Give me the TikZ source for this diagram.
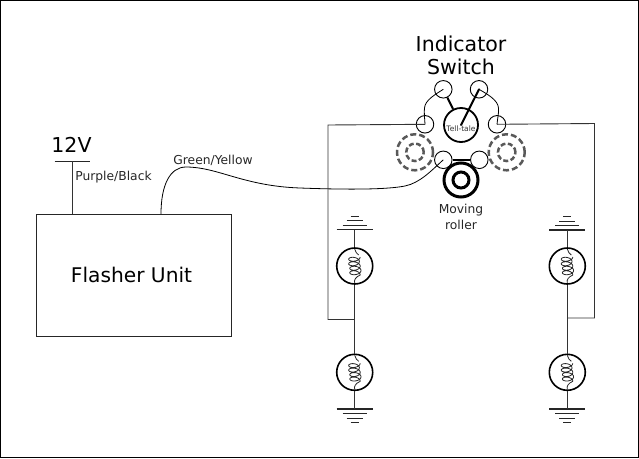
\documentclass[tikz,border=0pt]{standalone}
\usepackage{fontspec}
\setmainfont{DejaVu Sans}
\tikzset{
  x=1pt,y=-1pt,
  wire/.style={draw=black!80,line width=0.9pt},
  term/.style={circle,draw=black,line width=0.9pt,minimum size=17.5pt,inner sep=0pt,fill=none},
  bulb/.style={circle,draw=black,line width=1.6pt,minimum size=36pt,inner sep=0pt},
  hub/.style={circle,draw=black,line width=1.8pt,minimum size=34pt,inner sep=0pt},
  thickwire/.style={draw=black,line width=2pt},
  ghost/.style={circle,draw=black!65,line width=2.5pt,dash pattern=on 6pt off 3pt,inner sep=0pt},
  big/.style={font=\fontsize{20.5}{24.5}\selectfont,inner sep=0pt,align=center},
  small/.style={font=\fontsize{12.3}{16}\selectfont,inner sep=0pt,align=center,text=black!85},
  coil/.style={draw=black!85,line width=0.8pt},
  gnd/.style={draw=black!85,line width=1pt},
}
\newcommand{\coilat}[2]{%
  \draw[coil] (#1,#2-17) .. controls (#1+2,#2-14) and (#1+1,#2-12) .. (#1+4,#2-11)
    plot[smooth,samples=90,domain=0:1440,variable=\t] ({#1+5.5*cos(\t)-0.8*sin(\t/4)},{#2-9+\t/80+3*sin(\t)})
    .. controls (#1+1,#2+11) and (#1-1,#2+14) .. (#1,#2+17);}
\begin{document}
\begin{tikzpicture}
\useasboundingbox (0,0) rectangle (639,458);
\draw[black,line width=1pt] (0.5,0.5) rectangle (638.5,457.5);

% Labels
\node[big] (title) at (461,55.5) {Indicator\\[-1pt]Switch};
\node[big] (volt) at (71.5,144.5) {12V};
\node[small] (pb) at (113.5,177) {Purple/Black};
\node[small] (gy) at (213,160) {Green/Yellow};
\node[small] (mr) at (461,216.5) {Moving\\roller};

% Flasher
\node[draw=black!85,line width=1pt,minimum width=195pt,minimum height=122pt,inner sep=0pt] (flasher) at (134.2,275) {};
\node[font=\fontsize{20.2}{24}\selectfont,inner sep=0pt] (flabel) at (131.5,274.5) {Flasher Unit};
\coordinate (vbar) at (72,161);
\draw[gnd] (54.5,161) -- (90,161);
\draw[wire] (vbar) -- (vbar |- flasher.north);

% Switch
\node[term] (tl) at (443.3,89.3) {};
\node[term] (tr) at (479,89.3) {};
\node[term] (l) at (425,124.3) {};
\node[term] (r) at (497,124.3) {};
\node[term] (bl) at (443.3,159.8) {};
\node[term] (br) at (479.3,159.8) {};
\node[hub] (tell) at (461,125) {};
\node[font=\fontsize{7.5}{8}\selectfont,text=black!80,inner sep=0pt] (tlabel) at (461,129) {Tell-tale};
\coordinate (tellc) at (461,125);
\draw[thickwire] (tl) -- (tell);
\draw[thickwire,line cap=round] (tellc) -- (tr.center);
\draw[thickwire] (bl) -- (br);
\draw[black,line width=0.8pt] (l.center) .. controls (424.5,116) and (424,112) .. (424.5,108) .. controls (425,100) and (436,94) .. (tl.center);
\draw[black,line width=0.8pt] (tr.center) .. controls (487,94) and (498,100) .. (498.5,108) .. controls (499,113) and (497.5,118) .. (r.center);

% Dashed contacts
\node[ghost,minimum size=36pt] (gl) at (415,152.3) {};
\node[ghost,minimum size=17.5pt,dash pattern=on 5pt off 2.5pt] (gli) at (415,152.3) {};
\node[ghost,minimum size=36pt] (gr) at (506.7,152.3) {};
\node[ghost,minimum size=17.5pt,dash pattern=on 5pt off 2.5pt] (gri) at (506.7,152.3) {};

% Roller
\node[circle,draw=black,line width=3pt,minimum size=34pt,inner sep=0pt] (roll) at (461,180) {};
\node[circle,draw=black,line width=3pt,minimum size=16pt,inner sep=0pt] (rolli) at (461,180) {};

% Green wire
\coordinate (gstart) at (161,214);
\draw[black,line width=0.8pt] (gstart) .. controls (161,185) and (170,167) .. (186,167)
  .. controls (218,167) and (243,186) .. (300,188) .. controls (340,189.5) and (385,190) .. (405,186)
  .. controls (420,183) and (432,170) .. (bl.center);

% Bulbs
\node[bulb] (b1) at (354.7,266) {};
\node[bulb] (b2) at (354.7,372.3) {};
\node[bulb] (b3) at (567.3,266) {};
\node[bulb] (b4) at (567.3,372.3) {};
\coilat{354.7}{266}
\coilat{354.7}{372.3}
\coilat{567.3}{266}
\coilat{567.3}{372.3}

% Grounds
\coordinate (g1) at (354.7,229.7);
\coordinate (g2) at (354.7,409);
\coordinate (g3) at (567.3,230);
\coordinate (g4) at (567.3,409);
\foreach \gx/\gy/\d in {354.7/229.7/-1,567.3/230/-1,354.7/409/1,567.3/409/1}{
  \draw[gnd,line width=1.2pt] (\gx-18,\gy) -- (\gx+18,\gy);
  \draw[gnd,line width=0.8pt] (\gx-12,\gy+\d*4.7) -- (\gx+12,\gy+\d*4.7);
  \draw[gnd,line width=0.8pt] (\gx-8,\gy+\d*9) -- (\gx+8,\gy+\d*9);
  \draw[gnd,line width=0.8pt] (\gx-4,\gy+\d*13.5) -- (\gx+4,\gy+\d*13.5);
}
\draw[wire] (g1) -- (b1);
\draw[wire] (b1) -- (b2);
\draw[wire] (b2) -- (g2);
\draw[wire] (g3) -- (b3);
\draw[wire] (b3) -- (b4);
\draw[wire] (b4) -- (g4);

% Side feeds
\coordinate (jl) at (354.7,319.5);
\coordinate (jr) at (567.3,318);
\draw[wire] (l.center) -- (328,125) -- (328,319.5) -- (jl);
\draw[wire] (r.center) -- (594.5,123.5) -- (594.5,318) -- (jr);
\end{tikzpicture}
\end{document}
